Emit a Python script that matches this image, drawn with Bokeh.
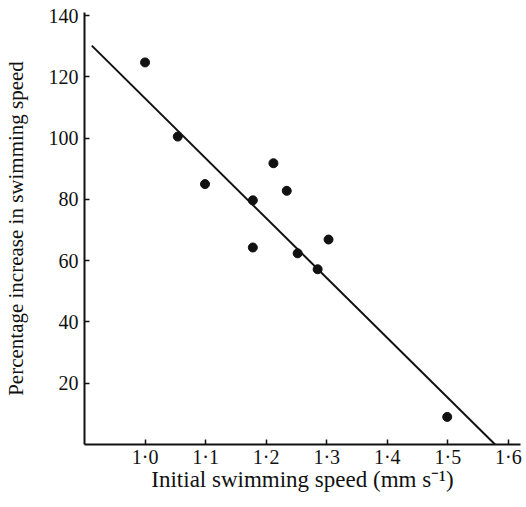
from bokeh.plotting import figure
from bokeh.models import Range1d, FixedTicker
from bokeh.embed import file_html
from bokeh.resources import INLINE

# data
speed = [1.000, 1.054, 1.099, 1.178, 1.178, 1.212, 1.234, 1.303, 1.252, 1.285, 1.499]
increase = [124.7, 100.5, 85.0, 79.7, 64.3, 91.8, 82.8, 66.9, 62.4, 57.2, 9.0]
fit_x = [0.912, 1.578]
fit_y = [130.2, 0.0]

x_ticks = [1.0, 1.1, 1.2, 1.3, 1.4, 1.5, 1.6]
x_tick_labels = ["1·0", "1·1", "1·2", "1·3", "1·4", "1·5", "1·6"]
y_ticks = [20, 40, 60, 80, 100, 120, 140]

FONT = "Liberation Serif"
INK = "#111111"

p = figure(width=524, height=494, output_backend="svg", toolbar_location=None,
           x_range=Range1d(0.9, 1.62), y_range=Range1d(0, 141),
           min_border_left=82, min_border_right=4, min_border_top=12, min_border_bottom=48)
p.outline_line_color = None
p.xgrid.visible = False
p.ygrid.visible = False
p.background_fill_color = "white"
p.border_fill_color = "white"

p.line(fit_x, fit_y, line_width=2, line_color=INK)
p.scatter(speed, increase, marker="circle", size=9, fill_color=INK, line_color=INK)

for ax in (p.xaxis[0], p.yaxis[0]):
    ax.axis_line_width = 2
    ax.axis_line_color = INK
    ax.major_tick_in = 5
    ax.major_tick_out = 0
    ax.major_tick_line_width = 1.5
    ax.major_tick_line_color = INK
    ax.minor_tick_line_color = None
    ax.major_label_text_font = FONT
    ax.major_label_text_font_size = "20px"
    ax.major_label_text_color = INK
    ax.axis_label_text_font = FONT
    ax.axis_label_text_font_style = "normal"
    ax.axis_label_text_color = INK

p.xaxis.ticker = FixedTicker(ticks=x_ticks)
p.xaxis.major_label_overrides = {t: l for t, l in zip(x_ticks, x_tick_labels)}
p.yaxis.ticker = FixedTicker(ticks=y_ticks)
p.xaxis.axis_label = "Initial swimming speed (mm s\u207b\u00b9)"
p.yaxis.axis_label = "Percentage increase in swimming speed"
p.xaxis.axis_label_text_font_size = "23px"
p.yaxis.axis_label_text_font_size = "21px"
p.xaxis.major_label_standoff = 1
p.yaxis.major_label_standoff = 6
p.xaxis.axis_label_standoff = -4
p.yaxis.axis_label_standoff = 18

open("out.html", "w").write(file_html(p, INLINE))
